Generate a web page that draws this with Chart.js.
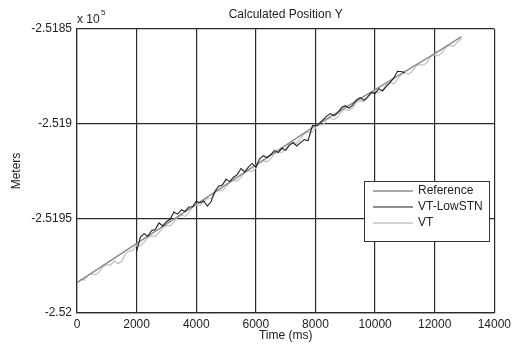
<!DOCTYPE html>
<html>
<head>
<meta charset="utf-8">
<script src="https://cdn.jsdelivr.net/npm/chart.js@4/dist/chart.umd.min.js"></script>
<style>
    html, body { margin: 0; padding: 0; background: #fff; }
    #wrap { width: 515px; height: 344px; }
</style>
</head>
<body>
<div id="wrap"><canvas id="position_y"></canvas></div>
<script>
'use strict';

// values in metres (axis shows them / 1e5)
var refTimes  = [0, 3200, 8000, 12000, 12900];
var refValues = [-251984.0, -251951.0, -251901.0, -251863.0, -251854.0];

var lowTimes  = [2000, 2125, 2250, 2375, 2500, 2625, 2750, 2875, 3000, 3125, 3250, 3375, 3500, 3625,
                 3750, 3875, 4000, 4125, 4250, 4375, 4500, 4625, 4750, 4875, 5000, 5125, 5250, 5375,
                 5500, 5625, 5750, 5875, 6000, 6125, 6250, 6375, 6500, 6625, 6750, 6875, 7000, 7125,
                 7250, 7375, 7500, 7625, 7750, 7900, 8075, 8250, 8375, 8500, 8625, 8750, 8875, 9000,
                 9125, 9250, 9375, 9500, 9625, 9750, 9875, 10000, 10125, 10250, 10375, 10500, 10625,
                 10750, 10900, 11000];
var lowValues = [-251967.5, -251960.0, -251958.1, -251959.5, -251956.5, -251955.9, -251952.4, -251954.0,
                 -251951.8, -251950.5, -251946.7, -251947.8, -251945.6, -251946.3, -251944.0, -251943.9,
                 -251940.9, -251941.9, -251940.8, -251943.5, -251941.1, -251935.8, -251933.0, -251932.4,
                 -251929.4, -251930.6, -251928.3, -251926.9, -251923.7, -251925.5, -251923.0, -251921.0,
                 -251923.0, -251918.6, -251916.9, -251918.0, -251916.3, -251914.1, -251915.3, -251913.0,
                 -251914.1, -251911.3, -251910.1, -251911.8, -251910.0, -251908.4, -251909.0, -251901.0,
                 -251900.8, -251898.0, -251896.0, -251894.7, -251895.9, -251894.3, -251891.4, -251890.5,
                 -251891.8, -251890.2, -251887.4, -251886.2, -251887.6, -251885.9, -251883.6, -251884.0,
                 -251881.5, -251882.7, -251880.3, -251878.3, -251876.0, -251872.3, -251872.6, -251873.0];

var vtTimes  = [0, 125, 250, 375, 500, 625, 750, 875, 1000, 1125, 1250, 1375, 1500, 1625, 1750, 1875,
                2000, 2125, 2250, 2375, 2500, 2625, 2750, 2875, 3000, 3125, 3250, 3375, 3500, 3625,
                3750, 3875, 4000, 4125, 4250, 4375, 4500, 4625, 4750, 4875, 5000, 5125, 5250, 5375,
                5500, 5625, 5750, 5875, 6000, 6125, 6250, 6375, 6500, 6625, 6750, 6875, 7000, 7125,
                7250, 7375, 7500, 7625, 7750, 7875, 8000, 8125, 8250, 8375, 8500, 8625, 8750, 8875,
                9000, 9125, 9250, 9375, 9500, 9625, 9750, 9875, 10000, 10125, 10250, 10375, 10500,
                10625, 10750, 10875, 11000, 11125, 11250, 11375, 11500, 11625, 11750, 11875, 12000,
                12125, 12250, 12375, 12500, 12625, 12750, 12900];
var vtValues = [-251984.5, -251982.3, -251982.5, -251980.0, -251979.3, -251979.8, -251978.2, -251975.4,
                -251974.5, -251974.8, -251972.6, -251973.8, -251972.9, -251968.6, -251967.4, -251966.9,
                -251964.2, -251964.4, -251962.6, -251960.2, -251959.3, -251959.6, -251957.5, -251954.9,
                -251953.8, -251954.0, -251952.0, -251949.3, -251948.3, -251948.9, -251947.0, -251944.2,
                -251943.0, -251943.2, -251941.2, -251939.6, -251939.5, -251936.5, -251935.3, -251935.4,
                -251933.4, -251930.9, -251929.9, -251930.4, -251928.4, -251925.8, -251924.9, -251925.2,
                -251923.3, -251920.6, -251919.6, -251920.1, -251918.5, -251915.9, -251914.8, -251915.3,
                -251913.5, -251910.7, -251909.8, -251910.3, -251908.0, -251905.3, -251904.3, -251904.6,
                -251902.3, -251900.5, -251900.7, -251897.9, -251897.1, -251897.8, -251896.4, -251893.5,
                -251892.5, -251893.1, -251891.5, -251888.8, -251887.9, -251888.3, -251886.4, -251883.5,
                -251882.8, -251883.5, -251882.1, -251879.3, -251878.4, -251878.9, -251876.6, -251874.0,
                -251873.2, -251873.8, -251872.3, -251869.5, -251868.7, -251869.2, -251867.4, -251864.6,
                -251863.6, -251864.1, -251862.4, -251859.6, -251858.7, -251859.2, -251857.3, -251855.0];

var seriesLabels = ['Reference', 'VT-LowSTN', 'VT'];
var xTicks = [0, 2000, 4000, 6000, 8000, 10000, 12000, 14000];
var yTicks = [-252000, -251950, -251900, -251850];

function toPoints(xs, ys) {
    return xs.map(function (x, i) { return { x: x, y: ys[i] }; });
}

var FONT = "'Liberation Sans', Arial, sans-serif";

// title, exponent, axis titles and the boxed legend (MATLAB look)
var decorations = {
    id: 'decorations',
    afterDraw: function (chart) {
        var ctx = chart.ctx;
        var area = chart.chartArea;
        ctx.save();
        ctx.fillStyle = '#222';
        ctx.textBaseline = 'middle';

        ctx.font = '12px ' + FONT;
        ctx.textAlign = 'center';
        ctx.fillText('Calculated Position Y', (area.left + area.right) / 2, 15);
        ctx.fillText('Time (ms)', (area.left + area.right) / 2, 336);

        ctx.textAlign = 'left';
        ctx.fillText('x 10', area.left, 20);
        ctx.font = '8px ' + FONT;
        ctx.fillText('5', area.left + 24, 13);

        ctx.font = '12px ' + FONT;
        ctx.translate(17, (area.top + area.bottom) / 2);
        ctx.rotate(-Math.PI / 2);
        ctx.textAlign = 'center';
        ctx.fillText('Meters', 0, 0);
        ctx.restore();

        // legend box
        ctx.save();
        var bx = 364, by = 181, bw = 125, bh = 60;
        ctx.fillStyle = '#fff';
        ctx.fillRect(bx, by, bw, bh);
        ctx.strokeStyle = '#333';
        ctx.lineWidth = 1;
        ctx.strokeRect(bx + 0.5, by + 0.5, bw, bh);
        ctx.font = '12px ' + FONT;
        ctx.textAlign = 'left';
        ctx.textBaseline = 'middle';
        chart.data.datasets.forEach(function (ds, i) {
            var ly = by + 10 + i * 16;
            ctx.strokeStyle = ds.borderColor;
            ctx.lineWidth = ds.borderWidth;
            ctx.beginPath();
            ctx.moveTo(bx + 9, ly);
            ctx.lineTo(bx + 49, ly);
            ctx.stroke();
            ctx.fillStyle = '#222';
            ctx.fillText(ds.label, bx + 54, ly);
        });
        ctx.restore();
    }
};

var PositionChart = document.getElementById('position_y');
var myPositionChart = new Chart(PositionChart, {
    type: 'line',
    data: {
        datasets: [
            {
                label: seriesLabels[0],
                data: toPoints(refTimes, refValues),
                borderColor: '#8c8c8c',
                borderWidth: 1.5,
                order: 1
            },
            {
                label: seriesLabels[1],
                data: toPoints(lowTimes, lowValues),
                borderColor: '#1e1e1e',
                borderWidth: 1.1,
                order: 0
            },
            {
                label: seriesLabels[2],
                data: toPoints(vtTimes, vtValues),
                borderColor: '#c4c4c4',
                borderWidth: 1.3,
                order: 2
            }
        ]
    },
    options: {
        responsive: true,
        maintainAspectRatio: false,
        animation: false,
        events: [],
        elements: {
            point: { radius: 0 },
            line: { tension: 0 }
        },
        layout: { padding: { top: 29, right: 18, left: 0, bottom: 0 } },
        plugins: {
            legend: { display: false },
            title: { display: false },
            tooltip: { enabled: false }
        },
        scales: {
            x: {
                type: 'linear',
                min: 0,
                max: 14000,
                afterBuildTicks: function (scale) {
                    scale.ticks = xTicks.map(function (v) { return { value: v }; });
                },
                afterFit: function (scale) { scale.height = 31; },
                grid: { color: '#2a2a2a', lineWidth: 1.2, drawTicks: false },
                border: { color: '#2a2a2a', width: 1.2 },
                ticks: {
                    padding: 4,
                    color: '#222',
                    maxRotation: 0,
                    font: { family: FONT, size: 12 },
                    callback: function (v) { return String(v); }
                }
            },
            y: {
                type: 'linear',
                min: -252000,
                max: -251850,
                afterBuildTicks: function (scale) {
                    scale.ticks = yTicks.map(function (v) { return { value: v }; });
                },
                afterFit: function (scale) { scale.width = 77; },
                grid: { color: '#2a2a2a', lineWidth: 1.2, drawTicks: false },
                border: { color: '#2a2a2a', width: 1.2 },
                ticks: {
                    padding: 5,
                    color: '#222',
                    font: { family: FONT, size: 12 },
                    callback: function (v) { return parseFloat((v / 1e5).toFixed(4)).toString(); }
                }
            }
        }
    },
    plugins: [decorations]
});
</script>
</body>
</html>
